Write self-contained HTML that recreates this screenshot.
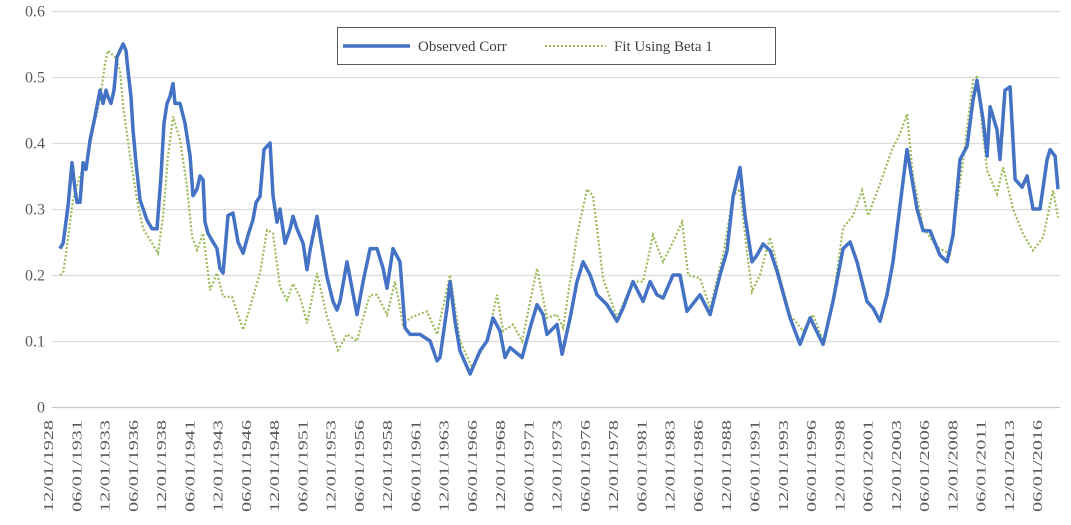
<!DOCTYPE html>
<html><head><meta charset="utf-8"><style>
html,body{margin:0;padding:0;background:#fff;}
svg{display:block;font-family:"Liberation Serif",serif;}
</style></head><body>
<svg id="chart" width="1071" height="525" viewBox="0 0 1071 525" xmlns="http://www.w3.org/2000/svg">
<g id="grid"></g>
<g id="yaxis"></g>
<g id="xaxis"></g>
<g id="series"></g>
<g>
<rect x="337.5" y="27.5" width="438" height="37" fill="#fff" stroke="#595959" stroke-width="1"/>
<g>
<line x1="343" y1="46" x2="410" y2="46" stroke="#4472c4" stroke-width="3.5"/>
<text x="418" y="51" font-size="15" fill="#404040">Observed Corr</text></g>
<g>
<line x1="545" y1="46" x2="606" y2="46" stroke="#9bbb59" stroke-width="2" stroke-dasharray="2,2"/>
<text x="614" y="51" font-size="15" fill="#404040">Fit Using Beta 1</text></g>
</g>
</svg>
<script>
const yTicks=[0,0.1,0.2,0.3,0.4,0.5,0.6];
const yTickLabels=["0","0.1","0.2","0.3","0.4","0.5","0.6"];
const xTickLabels=["12/01/1928","06/01/1931","12/01/1933","06/01/1936","12/01/1938","06/01/1941","12/01/1943","06/01/1946","12/01/1948","06/01/1951","12/01/1953","06/01/1956","12/01/1958","06/01/1961","12/01/1963","06/01/1966","12/01/1968","06/01/1971","12/01/1973","06/01/1976","12/01/1978","06/01/1981","12/01/1983","06/01/1986","12/01/1988","06/01/1991","12/01/1993","06/01/1996","12/01/1998","06/01/2001","12/01/2003","06/01/2006","12/01/2008","06/01/2011","12/01/2013","06/01/2016"];
const obsYears=[1928.90,1929.17,1929.61,1929.96,1930.23,1930.40,1930.67,1930.94,1931.20,1931.56,1932.00,1932.44,1932.71,1932.97,1933.15,1933.41,1933.68,1933.94,1934.21,1934.48,1934.74,1934.92,1935.18,1935.36,1935.63,1935.98,1936.60,1937.04,1937.48,1937.84,1938.10,1938.37,1938.63,1938.90,1939.08,1939.52,1939.96,1940.41,1940.67,1941.02,1941.29,1941.56,1941.73,1942.00,1942.44,1942.79,1943.06,1943.33,1943.77,1944.21,1944.65,1945.10,1945.54,1945.98,1946.25,1946.60,1946.95,1947.22,1947.49,1947.75,1948.10,1948.37,1948.81,1949.26,1949.52,1949.87,1950.41,1950.76,1951.03,1951.64,1951.91,1952.53,1953.06,1953.41,1953.68,1954.30,1955.18,1955.72,1956.34,1956.95,1957.49,1957.84,1958.37,1958.99,1959.43,1959.88,1960.76,1961.65,1962.26,1962.53,1963.15,1963.42,1963.86,1964.30,1965.19,1966.07,1966.69,1967.22,1967.84,1968.28,1968.73,1969.79,1970.50,1971.11,1971.65,1972.00,1972.88,1973.33,1974.04,1974.65,1975.19,1975.81,1976.42,1977.31,1978.19,1978.73,1979.61,1980.50,1981.12,1981.73,1982.27,1983.15,1983.77,1984.39,1985.54,1986.43,1987.31,1987.93,1988.46,1989.08,1989.52,1990.14,1990.58,1991.12,1991.74,1992.35,1993.50,1994.39,1995.28,1996.43,1997.31,1998.20,1998.82,1999.43,2000.32,2000.85,2001.47,2002.09,2002.62,2003.86,2004.74,2005.28,2005.90,2006.78,2007.40,2007.93,2008.55,2009.17,2009.70,2010.05,2010.59,2010.94,2011.21,2011.82,2012.09,2012.53,2012.98,2013.42,2014.04,2014.48,2015.01,2015.63,2016.25,2016.52,2016.96,2017.22];
const obsValues=[.24,.248,.304,.37,.33,.31,.31,.37,.36,.405,.44,.48,.46,.48,.47,.46,.48,.53,.54,.55,.54,.51,.47,.42,.37,.314,.283,.27,.27,.35,.43,.46,.47,.49,.46,.46,.43,.38,.32,.33,.35,.344,.28,.263,.25,.24,.21,.203,.29,.294,.25,.233,.26,.284,.31,.319,.39,.395,.40,.32,.28,.30,.248,.27,.289,.27,.248,.208,.238,.289,.26,.197,.16,.147,.16,.22,.14,.19,.24,.24,.21,.18,.24,.22,.12,.11,.11,.10,.07,.075,.15,.19,.13,.085,.05,.085,.10,.135,.115,.075,.09,.075,.12,.155,.14,.11,.125,.08,.135,.19,.22,.20,.17,.155,.13,.15,.19,.16,.19,.17,.165,.20,.20,.145,.17,.14,.20,.236,.318,.363,.29,.22,.23,.247,.237,.206,.135,.095,.135,.095,.16,.24,.25,.22,.16,.15,.13,.17,.22,.39,.30,.267,.267,.23,.22,.26,.375,.395,.465,.495,.435,.38,.455,.42,.375,.48,.485,.345,.333,.35,.30,.30,.375,.39,.38,.33];
const fitYears=[1928.90,1929.17,1929.52,1930.05,1930.67,1931.29,1931.82,1932.44,1932.88,1933.15,1933.77,1934.21,1934.48,1935.10,1935.71,1936.25,1936.87,1937.57,1938.02,1938.46,1938.90,1939.52,1940.14,1940.58,1941.02,1941.56,1942.18,1942.79,1943.33,1944.12,1945.10,1945.72,1946.60,1947.22,1947.75,1948.37,1948.99,1949.52,1950.14,1950.76,1951.64,1952.53,1953.50,1954.30,1955.18,1955.72,1956.34,1956.95,1957.84,1958.55,1959.26,1959.88,1961.38,1962.26,1963.42,1964.30,1965.36,1966.69,1967.57,1968.11,1968.99,1969.79,1971.11,1972.00,1972.88,1973.42,1974.65,1975.54,1976.07,1976.96,1978.19,1979.61,1980.50,1981.38,1982.27,1983.15,1983.95,1984.48,1985.54,1986.43,1987.58,1988.46,1989.08,1989.70,1990.14,1990.85,1991.74,1992.62,1993.50,1994.66,1995.54,1996.43,1997.31,1998.20,1999.08,1999.88,2000.41,2001.47,2002.53,2003.24,2003.86,2004.39,2005.28,2006.51,2007.67,2008.82,2009.70,2010.05,2010.94,2011.82,2012.36,2013.24,2014.13,2015.01,2015.90,2016.78,2017.22];
const fitValues=[.20,.203,.243,.314,.35,.37,.42,.466,.52,.54,.53,.51,.456,.38,.314,.27,.253,.233,.29,.38,.44,.405,.334,.258,.238,.263,.177,.203,.167,.167,.117,.152,.203,.268,.263,.182,.162,.187,.167,.127,.203,.137,.086,.11,.10,.135,.17,.17,.14,.19,.125,.135,.145,.11,.20,.10,.06,.10,.17,.115,.125,.10,.21,.135,.14,.12,.26,.33,.32,.195,.135,.19,.19,.26,.22,.25,.28,.20,.195,.15,.23,.32,.33,.236,.175,.20,.257,.196,.14,.115,.14,.10,.16,.272,.29,.328,.29,.338,.39,.414,.444,.35,.272,.242,.232,.373,.495,.50,.358,.323,.363,.30,.262,.237,.257,.328,.287];

const NS="http://www.w3.org/2000/svg";
const yScale=v=>407-v*660;
const xScale=yr=>60+(yr-1928.9)*11.3;
function mk(tag,attrs,parent){const e=document.createElementNS(NS,tag);for(const k in attrs)e.setAttribute(k,attrs[k]);parent.appendChild(e);return e;}
const grid=document.getElementById('grid'),ya=document.getElementById('yaxis'),xa=document.getElementById('xaxis'),ser=document.getElementById('series');
yTicks.forEach((t,i)=>{
  const y=Math.round(yScale(t))+0.5;
  const l=mk('line',{x1:52,x2:1060,y1:y,y2:y,stroke:i===0?'#c8c8c8':'#dcdcdc','stroke-width':1.2},grid);
  
  
  const tx=mk('text',{x:45,y:y+5,'text-anchor':'end','font-size':16,fill:'#595959'},ya);
  tx.textContent=yTickLabels[i];
  
  
});
xTickLabels.forEach((s,i)=>{
  const x=48+28.26*i;
  const tx=mk('text',{x:0,y:0,'text-anchor':'end','font-size':14,fill:'#595959',textLength:92,lengthAdjust:'spacingAndGlyphs',transform:`translate(${x+5},420) rotate(-90)`},xa);
  tx.textContent=s;
  
  
});
function path(xs,vs){return xs.map((yr,i)=>(i?'L':'M')+xScale(yr).toFixed(1)+','+yScale(vs[i]).toFixed(1)).join('');}
const pf=mk('path',{d:path(fitYears,fitValues),fill:'none',stroke:'#9bbb59','stroke-width':2.2,'stroke-dasharray':'2,2'},ser);


const po=mk('path',{d:path(obsYears,obsValues),fill:'none',stroke:'#4472c4','stroke-width':3.5,'stroke-linejoin':'round'},ser);


</script>
</body></html>
